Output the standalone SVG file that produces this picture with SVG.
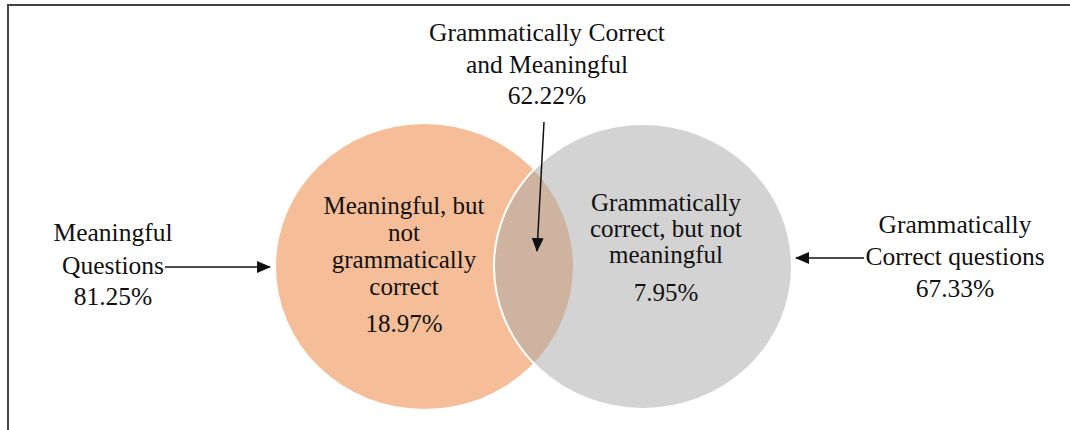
<svg xmlns="http://www.w3.org/2000/svg" width="1070" height="430" viewBox="0 0 1070 430" font-family="'Liberation Serif', 'Times New Roman', 'DejaVu Serif', serif">
<defs>
<style>
text{font-family:'Liberation Serif','Times New Roman','DejaVu Serif',serif;font-size:25.5px;fill:#111;text-anchor:middle}
.inner{font-size:25px}
.conn{stroke:#111;stroke-width:1.5;fill:none}
</style>
<marker id="ah" markerUnits="userSpaceOnUse" markerWidth="14" markerHeight="12" refX="13" refY="6" orient="auto">
<path d="M0,0 L14,6 L0,12 Z" fill="#111"/>
</marker>
</defs>
<rect width="1070" height="430" fill="#fff"/>
<rect x="8" y="5" width="1090" height="460" fill="none" stroke="#444" stroke-width="2"/>
<g id="meaningful">
<ellipse cx="424.5" cy="266.5" rx="148.5" ry="142.5" fill="#F5BE98"/>
<text class="inner" x="404" y="214">Meaningful, but</text>
<text class="inner" x="404" y="241">not</text>
<text class="inner" x="404" y="268">grammatically</text>
<text class="inner" x="404" y="295">correct</text>
<text class="inner" x="404" y="332">18.97%</text>
</g>
<g id="grammatical">
<ellipse cx="643" cy="266.5" rx="149" ry="142.5" fill="#A8A8A8" fill-opacity="0.5" stroke="#fff" stroke-width="2"/>
<text class="inner" x="666" y="211">Grammatically</text>
<text class="inner" x="666" y="237">correct, but not</text>
<text class="inner" x="666" y="263">meaningful</text>
<text class="inner" x="666" y="301">7.95%</text>
</g>
<g id="label-meaningful">
<text x="113" y="241">Meaningful</text>
<text x="113" y="274">Questions</text>
<text x="113" y="305">81.25%</text>
</g>
<g id="label-grammatical">
<text x="955" y="233">Grammatically</text>
<text x="955" y="265">Correct questions</text>
<text x="955" y="297">67.33%</text>
</g>
<g id="label-both">
<text x="547" y="41">Grammatically Correct</text>
<text x="547" y="73">and Meaningful</text>
<text x="547" y="104">62.22%</text>
</g>
<g id="connectors">
<line class="conn" x1="165" y1="267" x2="270" y2="267" marker-end="url(#ah)"/>
<line class="conn" x1="864" y1="258" x2="796" y2="258" marker-end="url(#ah)"/>
<line class="conn" x1="544" y1="122" x2="537" y2="251" marker-end="url(#ah)"/>
</g>
</svg>
